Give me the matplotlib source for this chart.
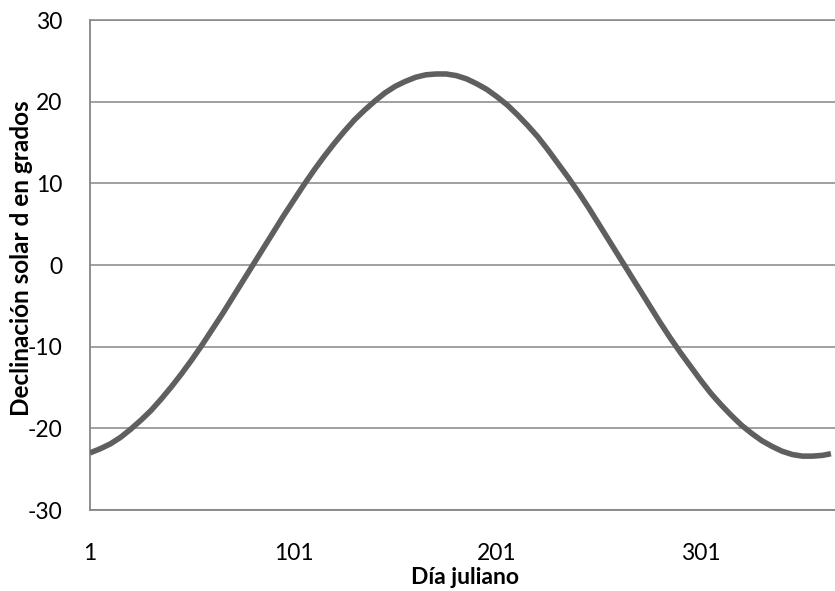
import matplotlib
matplotlib.use("Agg")
import matplotlib.pyplot as plt

# Declinación solar, cada 5 días (día juliano -> grados)
dias = [1, 6, 11, 16, 21, 26, 31, 36, 41, 46, 51, 56, 61, 66, 71, 76, 81,
        86, 91, 96, 101, 106, 111, 116, 121, 126, 131, 136, 141, 146, 151,
        156, 161, 166, 171, 176, 181, 186, 191, 196, 201, 206, 211, 216,
        221, 226, 231, 236, 241, 246, 251, 256, 261, 266, 271, 276, 281,
        286, 291, 296, 301, 306, 311, 316, 321, 326, 331, 336, 341, 346,
        351, 356, 361, 365]
declinacion = [-23.0, -22.5, -21.9, -21.1, -20.1, -19.0, -17.8, -16.4, -14.9,
               -13.3, -11.6, -9.8, -7.9, -6.0, -4.0, -2.0, 0.0, 2.0, 4.0, 6.0,
               7.9, 9.8, 11.6, 13.3, 14.9, 16.4, 17.8, 19.0, 20.1, 21.1, 21.9,
               22.5, 23.0, 23.3, 23.4, 23.4, 23.2, 22.8, 22.2, 21.5, 20.6,
               19.6, 18.4, 17.1, 15.7, 14.1, 12.4, 10.7, 8.9, 7.0, 5.0, 3.0,
               1.0, -1.0, -3.0, -5.0, -7.0, -8.9, -10.7, -12.4, -14.1, -15.7,
               -17.1, -18.4, -19.6, -20.6, -21.5, -22.2, -22.8, -23.2, -23.4,
               -23.4, -23.3, -23.1]
x_ticks = [1, 101, 201, 301]
y_ticks = [-30, -20, -10, 0, 10, 20, 30]

GRIS = "#868686"
plt.rcParams["font.family"] = ["Lato", "DejaVu Sans"]
plt.rcParams["axes.unicode_minus"] = False

fig = plt.figure(figsize=(8.35, 5.91), dpi=100)
ax = fig.add_axes([0.1078, 0.137, 0.8922, 0.829])

ax.plot(dias, declinacion, color="#5f5f5f", lw=4.0, solid_capstyle="butt",
        solid_joinstyle="round", zorder=3)

ax.set_xlim(1, 367)
ax.set_ylim(-30, 30)
ax.set_xticks(x_ticks)
ax.set_yticks(y_ticks)
ax.tick_params(length=0, labelsize=16.5, colors="black")
ax.tick_params(axis="y", pad=20)
ax.tick_params(axis="x", pad=24)

ax.grid(axis="y", color=GRIS, lw=1.1)
ax.set_axisbelow(True)
for side in ["top", "right"]:
    ax.spines[side].set_visible(False)
for side in ["left", "bottom"]:
    ax.spines[side].set_color(GRIS)
    ax.spines[side].set_linewidth(1.3)
# línea superior de la cuadrícula (30)
ax.axhline(30, color=GRIS, lw=1.1, clip_on=False)

# títulos de los ejes
fig.text(465 / 835, 1 - 584 / 591, "Día juliano", fontsize=16.5,
         fontweight="bold", ha="center", va="baseline")
fig.text(22 / 835, 1 - 258 / 591, "Declinación solar d en grados",
         fontsize=17.5, fontweight="bold", rotation=90,
         ha="center", va="center")

fig.savefig("out.png", dpi=100)
